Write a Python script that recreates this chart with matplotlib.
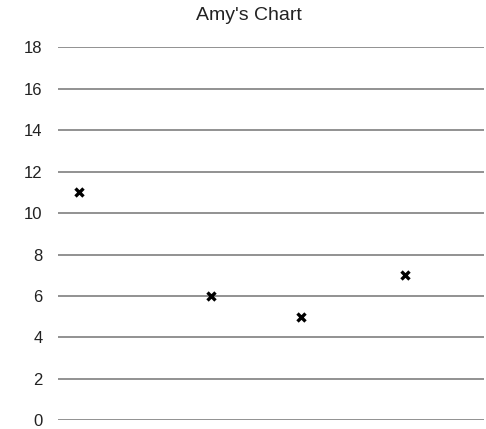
import matplotlib.pyplot as plt

plt.rcParams['font.family'] = ['Liberation Sans', 'DejaVu Sans']

# data
x_vals = [1.0, 7.2, 11.4, 16.3]
y_vals = [11, 6, 5, 7]
y_ticks = [0, 2, 4, 6, 8, 10, 12, 14, 16, 18]

fig = plt.figure(figsize=(4.86, 4.29), dpi=100)
ax = fig.add_axes([0.119, 0.02, 0.877, 0.87])

ax.plot(x_vals, y_vals, linestyle='none', marker='x', color='black',
        markersize=6, markeredgewidth=2.4, zorder=3)

ax.set_xlim(0, 20)
ax.set_ylim(0, 18)
ax.set_yticks(y_ticks)
ax.set_xticks([])
ax.yaxis.grid(True, color='#7f7f7f', linewidth=1.2)
ax.set_axisbelow(True)
ax.tick_params(axis='y', length=0, pad=11, labelsize=12, labelcolor='#222222')
for s in ax.spines.values():
    s.set_visible(False)

fig.text(0.512, 0.963, "Amy's Chart", ha='center', va='center',
         fontsize=14, color='#222222')

fig.savefig('out.png', dpi=100)
